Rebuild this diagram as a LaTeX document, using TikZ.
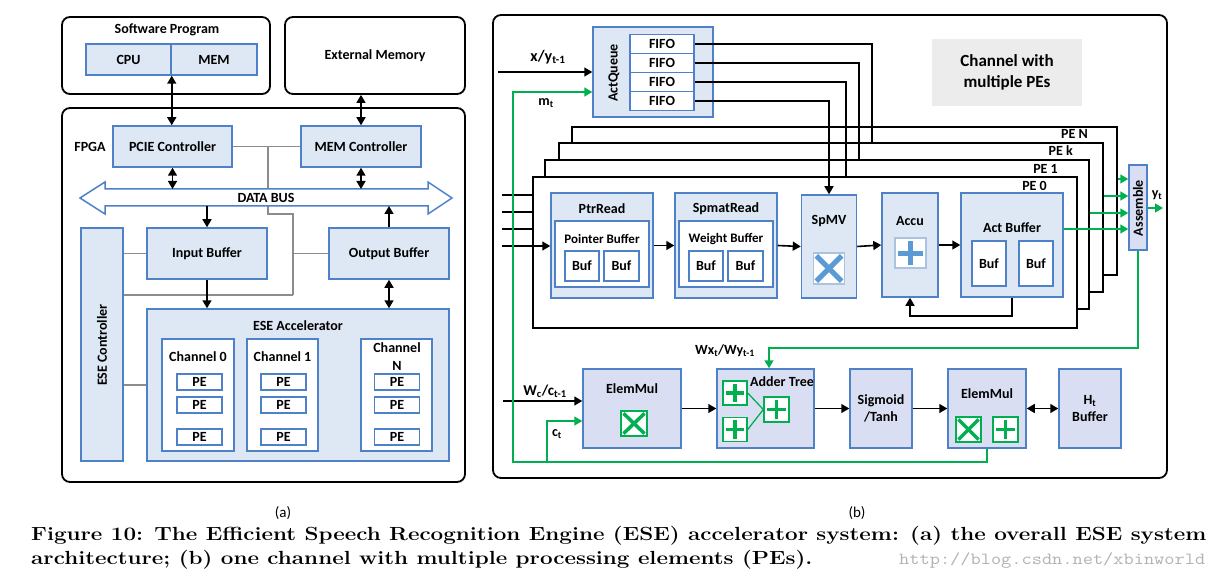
\documentclass[tikz,border=0pt]{standalone}
\usepackage{fontspec}
\usepackage{graphicx}
\newfontfamily\calfont{Carlito}
\usetikzlibrary{arrows.meta}
\definecolor{bb}{RGB}{79,129,200}
\definecolor{lf}{RGB}{222,231,244}
\definecolor{lv}{RGB}{218,222,242}
\definecolor{gr}{RGB}{0,176,80}
\definecolor{lg}{RGB}{236,236,236}
\definecolor{icb}{RGB}{91,155,213}
\definecolor{icbd}{RGB}{170,195,225}
\begin{document}
\begin{tikzpicture}[x=1pt,y=-1pt,
  every node/.style={inner sep=0pt, font=\calfont\bfseries\fontsize{14}{17}\selectfont},
  sz/.style 2 args={minimum width=#1pt, minimum height=#2pt},
  rframe/.style={draw=black, line width=1.8pt, rounded corners=8pt, fill=white},
  bbox/.style={draw=bb, line width=1.5pt, fill=lf, align=center},
  lbox/.style={draw=bb, line width=1.5pt, fill=lv, align=center},
  wbox/.style={draw=bb, line width=1.5pt, fill=white},
  pef/.style={draw=black, line width=1.6pt, fill=white},
  bl/.style={draw=black, line width=1.6pt},
  ar/.style={bl, -{Triangle[length=8pt,width=9pt]}},
  dar/.style={bl, {Triangle[length=8pt,width=9pt]}-{Triangle[length=8pt,width=9pt]}},
  gl/.style={draw=gr, line width=1.6pt},
  gar/.style={gl, -{Triangle[length=8pt,width=9pt]}},
  gy/.style={draw=black!45, line width=1.6pt},
  gic/.style={draw=gr, line width=1.4pt, fill=white},
  bic/.style={draw=icbd, line width=1.4pt, fill=white},
  gsym/.style={draw=gr, line width=3.5pt, shorten <=#1, shorten >=#1},
  bsym/.style={draw=icb, line width=5pt, shorten <=#1, shorten >=#1},
]
\fill[white] (0,0) rectangle (1207,580);
\useasboundingbox (0,0) rectangle (1207,580);

% ================= LEFT PANEL (a) =================
\node[rframe, sz={208}{77}] (sw) at (166,55.5) {};
\node (swt) at (167,30) {Software Program};
\node[bbox, sz={85}{31}] (cpu) at (128.5,59.5) {CPU};
\node[bbox, sz={86}{31}] (mem) at (214,59.5) {MEM};
\node[rframe, sz={180}{77}] (ext) at (375,55.5) {External Memory};
\node[rframe, sz={403}{374}] (fpga) at (263.5,295) {};
\node (fpgat) at (90,147) {FPGA};

% gray control lines
\coordinate (g1) at (268,146.5);
\coordinate (g2) at (268,214);
\coordinate (g3) at (293,214);
\coordinate (g4) at (293,295);
\coordinate (g5) at (293,253.5);
\draw[gy] (g1) -- (g2) -- (g3) -- (g4);

\node[bbox, sz={119}{41}] (pcie) at (172.5,146.5) {PCIE Controller};
\node[bbox, sz={120}{41}] (memc) at (361,146.5) {MEM Controller};
\draw[gy] (pcie.east) -- (memc.west);

% data bus
\draw[draw=bb, line width=1.5pt, fill=white] (80,198) -- (105,182) -- (105,189) -- (428,189) -- (428,182) -- (452,198) -- (428,214) -- (428,206) -- (105,206) -- (105,214) -- cycle;
\node (bus) at (266,198) {DATA BUS};
\coordinate (bustop) at (266,189);
\coordinate (busbot) at (266,206);

\node[bbox, sz={42}{233}] (esec) at (102,344.5) {};
\node[rotate=90] (esect) at (102,345) {ESE Controller};
\node[bbox, sz={120}{51}] (inb) at (207,253.5) {Input Buffer};
\node[bbox, sz={120}{51}] (outb) at (389,253.5) {Output Buffer};
\node[bbox, sz={302}{152}] (acc) at (298,385) {};
\node (acct) at (298,326) {ESE Accelerator};

\draw[gy] (g4) -- (g4 -| esec.east);
\draw[gy] (esec.east |- inb.west) -- (inb.west);
\draw[gy] (g5) -- (outb.west);
\draw[gy] (esec.east |- acc.west) -- (acc.west);

\node[wbox, sz={72}{112}] (ch0) at (198,395) {};
\node (ch0t) at (198,357) {Channel 0};
\node[wbox, sz={71}{112}] (ch1) at (282.5,395) {};
\node (ch1t) at (282.5,357) {Channel 1};
\node[wbox, sz={71}{112}] (chn) at (396.5,395) {};
\node[align=center, font=\calfont\bfseries\fontsize{14}{18}\selectfont] (chnt) at (397,357) {Channel\\N};
\foreach \c/\x in {0/199.5,1/283.5,n/397}{
  \foreach \r/\y in {1/382,2/405,3/437}{
    \node[wbox, sz={45}{16}] (pe\c\r) at (\x,\y) {PE};
  }
}

\draw[dar] (cpu.south east) -- (cpu.south east |- pcie.north);
\draw[dar] (memc.north) -- (memc.north |- ext.south);
\draw[dar] (pcie.south) -- (pcie.south |- bustop);
\draw[dar] (memc.south) -- (memc.south |- bustop);
\draw[ar] (inb.north |- busbot) -- (inb.north);
\draw[ar] (outb.north) -- (outb.north |- busbot);
\draw[ar] (inb.south) -- (inb.south |- acc.north);
\draw[dar] (outb.south) -- (outb.south |- acc.north);

% ================= RIGHT PANEL (b) =================
\node[rframe, sz={674}{463}] (rp) at (830,246.5) {};
\node[fill=lg, sz={150}{67}, align=center, font=\calfont\bfseries\fontsize{17}{21}\selectfont] (chm) at (1007,72.5) {Channel with\\multiple PEs};

\node[bbox, sz={120}{90}] (actq) at (653,72) {};
\node[rotate=90] (actqt) at (614,73) {ActQueue};
\foreach \i/\y in {1/44,2/63,3/82,4/101}{
  \node[wbox, sz={64}{19}] (f\i) at (662,\y) {FIFO};
}

% PE frames
\node[pef, sz={545}{148}] (pen) at (844.5,201) {};
\node[pef, sz={544}{149}] (pek) at (831,217.5) {};
\node[pef, sz={544}{149}] (pe1) at (817,234.5) {};
\node[pef, sz={544}{151}] (pe0) at (805,252.5) {};
\node[anchor=east] (penl) at (1088,134) {PE N};
\node[anchor=east] (pekl) at (1073,151) {PE k};
\node[anchor=east] (pe1l) at (1058,169) {PE 1};
\node[anchor=east] (pe0l) at (1047,186) {PE 0};

% PE 0 contents
\node[bbox, sz={102}{105}] (ptr) at (602,245.5) {};
\node (ptrt) at (602,209) {PtrRead};
\node[wbox, sz={94}{66}] (pbuf) at (602,254) {};
\node[font=\calfont\bfseries\fontsize{13}{15}\selectfont] (pbuft) at (602,239) {Pointer Buffer};
\node[wbox, sz={34}{30}] (pb1) at (582,266) {Buf};
\node[wbox, sz={35}{30}] (pb2) at (621.5,266) {Buf};

\node[bbox, sz={102}{105}] (smr) at (726,245.5) {};
\node (smrt) at (726,209) {SpmatRead};
\node[wbox, sz={94}{66}] (wbuf) at (726,254) {};
\node[font=\calfont\bfseries\fontsize{13}{15}\selectfont] (wbuft) at (726,239) {Weight Buffer};
\node[wbox, sz={34}{30}] (wb1) at (706,266) {Buf};
\node[wbox, sz={35}{30}] (wb2) at (745.5,266) {Buf};

\node[bbox, sz={55}{103}] (spmv) at (829,246.5) {};
\node (spmvt) at (829,221) {SpMV};
\node[bic, sz={31}{31}] (mul) at (829,268.5) {};
\draw[bsym=5pt] (mul.north west) -- (mul.south east);
\draw[bsym=5pt] (mul.north east) -- (mul.south west);

\node[bbox, sz={56}{104}] (accu) at (910,245) {};
\node (accut) at (910,221) {Accu};
\node[bic, sz={31}{30}] (add) at (910.5,253) {};
\draw[bsym=4pt] (add.north) -- (add.south);
\draw[bsym=4pt] (add.west) -- (add.east);

\node[bbox, sz={102}{104}] (actb) at (1012,245) {};
\node (actbt) at (1012,228) {Act Buffer};
\node[wbox, sz={34}{45}] (ab1) at (989,263.5) {Buf};
\node[wbox, sz={34}{45}] (ab2) at (1036,263.5) {Buf};

\node[lbox, sz={18}{85}] (asm) at (1138,207.5) {};
\node[rotate=90] (asmt) at (1138,208) {Assemble};
\node (ytl) at (1157,195) {y\textsubscript{t}};

% inputs on the left of the PE stack
\coordinate (in1) at (502,195);
\coordinate (in2) at (502,212);
\coordinate (in3) at (502,229);
\coordinate (in4) at (502,246);
\draw[bl] (in1) -- (in1 -| pe0.west);
\draw[bl] (in2) -- (in2 -| pe0.west);
\draw[bl] (in3) -- (in3 -| pe0.west);
\draw[ar] (in4) -- (in4 -| ptr.west);

\draw[ar] (ptr.east) -- (smr.west);
\draw[ar] (smr.east) -- (spmv.west);
\draw[ar] (spmv.east) -- (accu.west);
\draw[ar] (accu.east) -- (actb.west);
\coordinate (fb) at (1012,316);
\draw[ar] (actb.south) -- (fb) -| (accu.south);

% FIFO lines
\coordinate (c1) at (872,0);
\coordinate (c2) at (859,0);
\coordinate (c3) at (846,0);
\draw[bl] (f1.east) -| (c1 |- pek.north);
\draw[bl] (f2.east) -| (c2 |- pe1.north);
\draw[bl] (f3.east) -| (c3 |- pe0.north);
\draw[ar] (f4.east) -| (spmv.north);

% input to ActQueue
\coordinate (xy) at (498,72);
\draw[ar] (xy) -- (actq.west);
\node[font=\calfont\bfseries\fontsize{16}{18}\selectfont] (xyl) at (548,57) {x/y\textsubscript{t-1}};
\node (mtl) at (546,103) {m\textsubscript{t}};

% green outputs to Assemble
\coordinate (o0) at (1070,229);
\coordinate (o1) at (1095,213);
\coordinate (o2) at (1108,196);
\coordinate (o3) at (1120,179);
\draw[gar] (actb.east |- o0) -- (asm.west |- o0);
\draw[gar] (pe1.east |- o1) -- (asm.west |- o1);
\draw[gar] (pek.east |- o2) -- (asm.west |- o2);
\draw[gar] (pen.east |- o3) -- (asm.west |- o3);
\coordinate (yt) at (1163,208);
\draw[gar] (asm.east |- yt) -- (yt);

% bottom row
\node[lbox, sz={98}{79}] (emul1) at (632,408.5) {};
\node (emul1t) at (632,389) {ElemMul};
\node[gic, sz={26}{25}] (x1) at (634,423.5) {};
\draw[gsym=4.5pt] (x1.north west) -- (x1.south east);
\draw[gsym=4.5pt] (x1.north east) -- (x1.south west);

\node[lbox, sz={97}{79}] (adder) at (765.5,408.5) {};
\node (addert) at (782,382) {Adder Tree};
\node[gic, sz={24}{24}] (a1) at (735,393) {};
\node[gic, sz={24}{24}] (a2) at (735,429.5) {};
\node[gic, sz={25}{25}] (a3) at (776.5,409.5) {};
\foreach \n in {a1,a2,a3}{
  \draw[gsym=3.5pt] (\n.north) -- (\n.south);
  \draw[gsym=3.5pt] (\n.west) -- (\n.east);
}
\draw[draw=gr, line width=1.3pt] (a1.east) -- (a3.west);
\draw[draw=gr, line width=1.3pt] (a2.east) -- (a3.west);

\node[lbox, sz={62}{79}] (sig) at (881,408.5) {Sigmoid\\/Tanh};
\node[lbox, sz={78}{79}] (emul2) at (987,408.5) {};
\node (emul2t) at (987,394) {ElemMul};
\node[gic, sz={25}{25}] (x2) at (968.5,429.5) {};
\draw[gsym=4.5pt] (x2.north west) -- (x2.south east);
\draw[gsym=4.5pt] (x2.north east) -- (x2.south west);
\node[gic, sz={25}{25}] (p2) at (1005.5,429.5) {};
\draw[gsym=3.5pt] (p2.north) -- (p2.south);
\draw[gsym=3.5pt] (p2.west) -- (p2.east);
\node[lbox, sz={62}{79}] (ht) at (1090,408.5) {H\textsubscript{t}\\Buffer};

\coordinate (wc) at (503,401);
\draw[ar] (wc) -- (wc -| emul1.west);
\node[font=\calfont\bfseries\fontsize{15}{17}\selectfont] (wcl) at (545,391) {W\textsubscript{c}/c\textsubscript{t-1}};
\draw[ar] (emul1.east) -- (adder.west);
\draw[ar] (adder.east) -- (sig.west);
\draw[ar] (sig.east) -- (emul2.west);
\draw[dar] (emul2.east) -- (ht.west);
\node (wxl) at (725,351) {Wx\textsubscript{t}/Wy\textsubscript{t-1}};

% green feedback paths
\coordinate (gA) at (769,348);
\draw[gar] (asm.south) |- (gA) -- (gA |- adder.north);
\coordinate (gB) at (513,462);
\coordinate (gM) at (513,92);
\draw[gar] (emul2.south) |- (gB) -- (gM) -- (gM -| actq.west);
\coordinate (gC) at (547,462);
\coordinate (gC2) at (547,421);
\draw[gar] (gC) -- (gC2) -- (gC2 -| emul1.west);
\node (ctl) at (557,434) {c\textsubscript{t}};

% ================= captions =================
\node[font=\calfont\mdseries\fontsize{15}{17}\selectfont] (capa) at (283,513) {(a)};
\node[font=\calfont\mdseries\fontsize{15}{17}\selectfont] (capb) at (857,513) {(b)};
\node[anchor=base west, font=\rmfamily\bfseries\fontsize{19}{24}\selectfont] (cap) at (31,540)
  {\resizebox{1175pt}{\height}{\begin{tabular}[t]{@{}l@{}}Figure 10: The Efficient Speech Recognition Engine (ESE) accelerator system: (a) the overall ESE system\\architecture; (b) one channel with multiple processing elements (PEs).\end{tabular}}};
\node[anchor=base west, text=black!30, font=\ttfamily\mdseries\fontsize{17}{17}\selectfont] (wm) at (899,564)
  {\resizebox{306pt}{\height}{http://blog.csdn.net/xbinworld}};
\end{tikzpicture}
\end{document}
